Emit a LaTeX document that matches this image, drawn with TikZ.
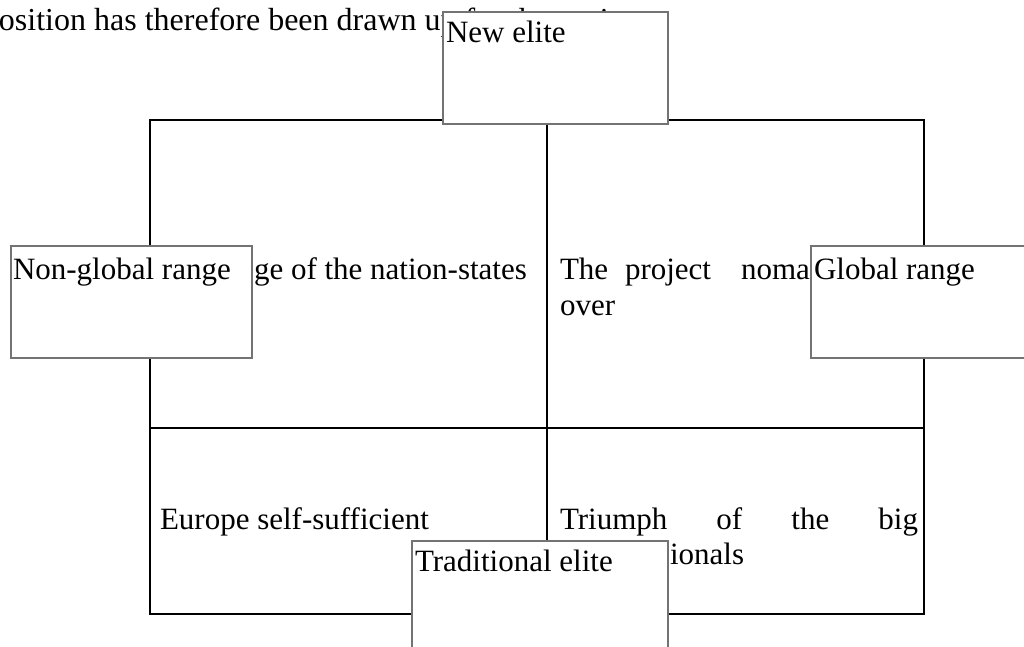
\documentclass[tikz,border=0pt]{standalone}
\usepackage{fontspec}
\setmainfont{Liberation Serif}
\begin{document}
\begin{tikzpicture}[x=1pt,y=-1pt,
  rule/.style={line width=2.2pt, line cap=rect},
  labelbox/.style={rectangle, draw=black!55, line width=1.2pt, fill=white,
    inner sep=0pt, outer sep=0pt, anchor=north west},
  txt/.style={anchor=base west, inner sep=0pt, outer sep=0pt,
    font=\fontsize{31}{36}\selectfont}]
\useasboundingbox (0,0) rectangle (1024,646);
\clip (0,0) rectangle (1024,646);

% running sentence of the page
\node[txt, font=\fontsize{32}{38}\selectfont] (sentence) at (-17,30)
  {position has therefore been drawn up for the project};

% the 2x2 table
\coordinate (tl) at (150,120);
\coordinate (br) at (924,614);
\coordinate (tm) at (547,120);
\coordinate (bm) at (547,614);
\coordinate (ml) at (150,428);
\coordinate (mr) at (924,428);
\draw[rule] (tl) rectangle (br);
\draw[rule] (tm) -- (bm);
\draw[rule] (ml) -- (mr);

% cell texts
\node[txt] (c11) at (254,279) {ge of the nation-states};
\node[txt] (c12a) at (560,279) {The};
\node[txt] (c12b) at (625,279) {project};
\node[txt] (c12c) at (741,279) {noma};
\node[txt] (c12d) at (560,315) {over};
\node[txt] (c21) at (160,529) {Europe self-sufficient};
\node[txt] (c22a) at (560,529) {\makebox[358pt][s]{Triumph of the big}};
\node[txt] (c22b) at (670,564) {ionals};

% axis label boxes
\node[labelbox, minimum width=225pt, minimum height=112pt] (newelite) at (443,12) {};
\node[txt] (newelitet) at (446,42) {New elite};
\node[labelbox, minimum width=241pt, minimum height=112pt] (nonglobal) at (11,246) {};
\node[txt] (nonglobalt) at (13,279) {Non-global range};
\node[labelbox, minimum width=225pt, minimum height=112pt] (global) at (811,246) {};
\node[txt] (globalt) at (814,279) {Global range};
\node[labelbox, minimum width=256pt, minimum height=112pt] (tradelite) at (412,541) {};
\node[txt] (tradelitet) at (415,571) {Traditional elite};
\end{tikzpicture}
\end{document}
